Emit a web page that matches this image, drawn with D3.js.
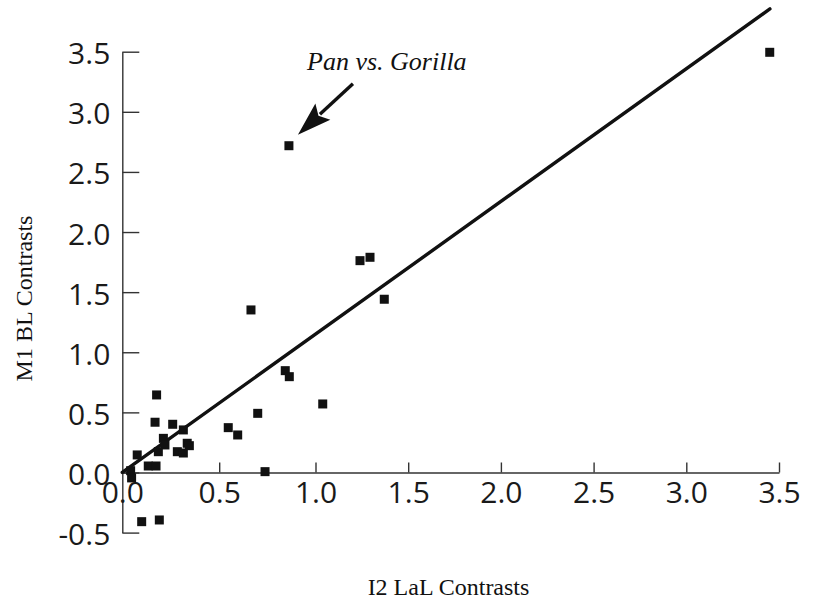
<!DOCTYPE html>
<html>
<head>
<meta charset="utf-8">
<script src="https://cdn.jsdelivr.net/npm/d3@7/dist/d3.min.js"></script>
<style>
  html, body { margin: 0; padding: 0; background: #fff; }
  svg { display: block; }
</style>
</head>
<body>
<svg id="chart" width="826" height="600"></svg>
<script>
// Independent contrasts: I2 LaL (x) against M1 BL (y)
const xValues = [3.45, 0.862, 1.24, 1.294, 1.371, 0.665, 0.843, 0.864, 1.039, 0.700, 0.547, 0.596, 0.738,
  0.177, 0.169, 0.260, 0.315, 0.212, 0.220, 0.186, 0.284, 0.315, 0.335, 0.346, 0.077, 0.134, 0.174,
  0.043, 0.048, 0.100, 0.191];
const yValues = [3.495, 2.718, 1.762, 1.790, 1.441, 1.352, 0.847, 0.797, 0.570, 0.492, 0.373, 0.312, 0.007,
  0.645, 0.418, 0.401, 0.354, 0.284, 0.229, 0.173, 0.173, 0.162, 0.243, 0.223, 0.146, 0.054, 0.054,
  0.015, -0.045, -0.409, -0.395];

// Fitted regression line through the origin
const fitStart = [0, 0];
const fitEnd = [3.451, 3.856];

const xTicks = [0, 0.5, 1.0, 1.5, 2.0, 2.5, 3.0, 3.5];
const xTickLabels = ["0.0", "0.5", "1.0", "1.5", "2.0", "2.5", "3.0", "3.5"];
const yTicks = [-0.5, 0, 0.5, 1.0, 1.5, 2.0, 2.5, 3.0, 3.5];
const yTickLabels = ["-0.5", "0.0", "0.5", "1.0", "1.5", "2.0", "2.5", "3.0", "3.5"];

const xTitle = "I2 LaL Contrasts";
const yTitle = "M1 BL Contrasts";
const noteText = "Pan vs. Gorilla";
const noteIndex = 1;

const svg = d3.select("#chart");

// The printed x axis spaces its first two intervals slightly wider than the rest
const x = d3.scaleLinear().domain([0, 0.5, 1, 3.5]).range([122.3, 219.2, 315.5, 779]);
const y = d3.scaleLinear().domain([-0.5, 3.5]).range([532.6, 51.7]);

const axisColor = "#333";
const labelFont = "'Open Sans', 'Noto Sans', sans-serif";
const titleFont = "'Liberation Serif', 'DejaVu Serif', serif";

// Y axis, ticks pointing inward
const yAxis = svg.append("g")
  .attr("transform", `translate(${x(0)},0)`)
  .call(d3.axisLeft(y).tickValues(yTicks)
    .tickFormat((d, i) => yTickLabels[i])
    .tickSizeInner(-17).tickSizeOuter(0).tickPadding(12));

// X axis along y = 0, ticks pointing up
const xAxis = svg.append("g")
  .attr("transform", `translate(0,${y(0)})`)
  .call(d3.axisBottom(x).tickValues(xTicks)
    .tickFormat((d, i) => xTickLabels[i])
    .tickSizeInner(-10).tickSizeOuter(0).tickPadding(9));

[xAxis, yAxis].forEach(g => {
  g.selectAll("path, line").attr("stroke", axisColor).attr("stroke-width", 1.4);
  g.selectAll("text")
    .attr("fill", "#1a1a1a")
    .style("font-family", labelFont)
    .style("font-size", "30px");
});
yAxis.selectAll("text").attr("dy", "0.4em");
xAxis.selectAll(".tick").filter(d => d === 0).select("line").remove();

// Regression line
svg.append("line")
  .attr("x1", x(fitStart[0])).attr("y1", y(fitStart[1]))
  .attr("x2", x(fitEnd[0])).attr("y2", y(fitEnd[1]))
  .attr("stroke", "#111").attr("stroke-width", 3.4)
  .attr("stroke-linecap", "round");

// Data points as filled squares
const size = 9;
svg.append("g").selectAll("rect")
  .data(xValues.map((v, i) => [v, yValues[i]]))
  .join("rect")
  .attr("x", d => x(d[0]) - size / 2)
  .attr("y", d => y(d[1]) - size / 2)
  .attr("width", size).attr("height", size)
  .attr("fill", "#111");

// Annotation with arrow pointing at the highlighted contrast
const px = x(xValues[noteIndex]), py = y(yValues[noteIndex]);
const tip = [px + 9, py - 11];
const tail = [px + 64, py - 62];
const ang = Math.atan2(tip[1] - tail[1], tip[0] - tail[0]);
const headLen = 34, headHalf = 11;
const base = [tip[0] - headLen * Math.cos(ang), tip[1] - headLen * Math.sin(ang)];
const nx = -Math.sin(ang), ny = Math.cos(ang);

svg.append("line")
  .attr("x1", tail[0]).attr("y1", tail[1])
  .attr("x2", base[0] + 4 * Math.cos(ang)).attr("y2", base[1] + 4 * Math.sin(ang))
  .attr("stroke", "#111").attr("stroke-width", 3.4);

svg.append("path")
  .attr("d", d3.line()([
    tip,
    [base[0] + headHalf * nx, base[1] + headHalf * ny],
    [base[0] + 6 * Math.cos(ang), base[1] + 6 * Math.sin(ang)],
    [base[0] - headHalf * nx, base[1] - headHalf * ny]
  ]) + "Z")
  .attr("fill", "#111");

svg.append("text")
  .attr("x", 307).attr("y", 70)
  .attr("fill", "#111")
  .style("font-family", titleFont)
  .style("font-style", "italic")
  .style("font-size", "26px")
  .text(noteText);

// Axis titles
svg.append("text")
  .attr("x", 448.5).attr("y", 595)
  .attr("text-anchor", "middle")
  .attr("fill", "#111")
  .style("font-family", titleFont)
  .style("font-size", "24px")
  .text(xTitle);

svg.append("text")
  .attr("transform", "translate(32,298.5) rotate(-90)")
  .attr("text-anchor", "middle")
  .attr("fill", "#111")
  .style("font-family", titleFont)
  .style("font-size", "24px")
  .text(yTitle);
</script>
</body>
</html>
